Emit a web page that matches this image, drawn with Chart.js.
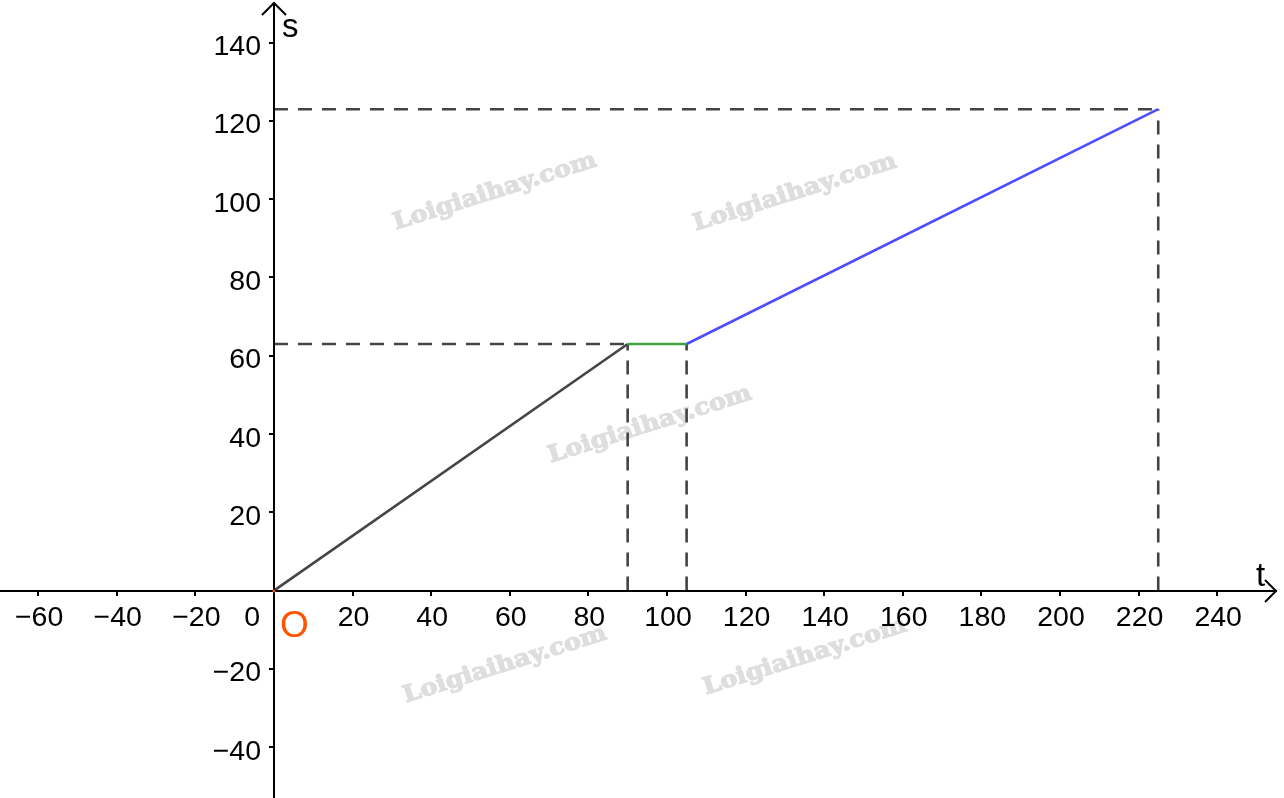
<!DOCTYPE html>
<html><head><meta charset="utf-8">
<script src="https://cdn.jsdelivr.net/npm/chart.js@4/dist/chart.umd.min.js"></script>
<style>html,body{margin:0;padding:0;background:#fff;overflow:hidden}canvas{display:block}</style>
</head><body>
<canvas id="c" width="1284" height="798"></canvas>
<script>
// ---- data ----
const tValues = [0, 90, 105, 225];
const sValues = [0, 63, 63, 123];
const segmentColors = ['#454545', '#3fa33f', '#4d4dff'];
const verticalGuideIdx = [1, 2, 3];
const horizontalGuideIdx = [1, 3];
const xTicks = [-60, -40, -20, 0, 20, 40, 60, 80, 100, 120, 140, 160, 180, 200, 220, 240];
const yTicks = [-40, -20, 0, 20, 40, 60, 80, 100, 120, 140];
const xAxisName = 't';
const yAxisName = 's';
const originName = 'O';
const watermarkText = 'Loigiaihay.com';
const watermarkSpots = [[495, 192], [795, 193], [650, 425], [505, 665], [805, 657]];

const fmt = v => (v < 0 ? '\u2212' + Math.abs(v) : String(v));

const mainData = tValues.map((t, i) => ({x: t, y: sValues[i]}));
const guideSets = [];
verticalGuideIdx.forEach(i => guideSets.push([{x: tValues[i], y: 0}, {x: tValues[i], y: sValues[i]}]));
horizontalGuideIdx.forEach(i => guideSets.push([{x: 0, y: sValues[i]}, {x: tValues[i], y: sValues[i]}]));

const datasets = [{
  data: mainData,
  showLine: true,
  borderWidth: 2.6,
  pointRadius: 0,
  order: 0,
  borderColor: '#454545',
  segment: {borderColor: ctx => segmentColors[ctx.p0DataIndex]}
}];
guideSets.forEach(g => datasets.push({
  data: g, showLine: true, borderWidth: 2.6, pointRadius: 0, order: 1,
  borderColor: '#444444', borderDash: [14, 10], borderCapStyle: 'butt'
}));

const axesPlugin = {
  id: 'axesPlugin',
  beforeDatasetsDraw(chart) {
    const ctx = chart.ctx;
    ctx.save();
    // watermarks
    ctx.fillStyle = '#dedede';
    ctx.strokeStyle = '#dedede';
    ctx.lineWidth = 1.2;
    ctx.lineJoin = 'round';
    ctx.font = 'bold 23px "DejaVu Serif"';
    ctx.textAlign = 'center'; ctx.textBaseline = 'middle';
    watermarkSpots.forEach(([px, py]) => {
      ctx.save(); ctx.translate(px, py); ctx.rotate(-17.5 * Math.PI / 180);
      const w = ctx.measureText(watermarkText).width;
      ctx.scale(212 / w, 1);
      ctx.fillText(watermarkText, 0, 0);
      ctx.strokeText(watermarkText, 0, 0);
      ctx.restore();
    });
    ctx.restore();
  },
  afterDatasetsDraw(chart) {
    const ctx = chart.ctx, xs = chart.scales.x, ys = chart.scales.y;
    const x0 = Math.round(xs.getPixelForValue(0)), y0 = Math.round(ys.getPixelForValue(0));
    const W = chart.width, H = chart.height;
    ctx.save();
    ctx.strokeStyle = '#000'; ctx.lineWidth = 2; ctx.lineCap = 'butt';
    // axes
    ctx.beginPath();
    ctx.moveTo(0, y0); ctx.lineTo(W - 7, y0);
    ctx.moveTo(x0, H); ctx.lineTo(x0, 3);
    ctx.stroke();
    // arrows
    ctx.beginPath();
    ctx.moveTo(W - 19, y0 - 11); ctx.lineTo(W - 8, y0); ctx.lineTo(W - 19, y0 + 11);
    ctx.moveTo(x0 - 12, 15); ctx.lineTo(x0, 3); ctx.lineTo(x0 + 12, 15);
    ctx.stroke();
    // ticks
    ctx.beginPath();
    xTicks.forEach(v => { if (v === 0) return; const p = Math.round(xs.getPixelForValue(v)); ctx.moveTo(p, y0); ctx.lineTo(p, y0 + 5); });
    yTicks.forEach(v => { if (v === 0) return; const p = Math.round(ys.getPixelForValue(v)); ctx.moveTo(x0 - 5, p); ctx.lineTo(x0, p); });
    ctx.stroke();
    // labels
    ctx.fillStyle = '#000';
    ctx.font = '28.5px "Liberation Sans", Arial, sans-serif';
    ctx.textBaseline = 'alphabetic';
    xTicks.forEach(v => {
      if (v === 0) { ctx.textAlign = 'right'; ctx.fillText('0', x0 - 14, y0 + 35); return; }
      ctx.textAlign = 'center'; ctx.fillText(fmt(v), xs.getPixelForValue(v) + 1, y0 + 35);
    });
    ctx.textAlign = 'right';
    yTicks.forEach(v => { if (v === 0) return; ctx.fillText(fmt(v), x0 - 13, ys.getPixelForValue(v) + 12.5); });
    // axis names
    ctx.font = '33px "Liberation Sans", Arial, sans-serif';
    ctx.textAlign = 'left';
    ctx.fillText(yAxisName, x0 + 8, 37);
    ctx.fillText(xAxisName, W - 28, y0 - 5);
    // origin
    ctx.fillStyle = '#ff5500';
    ctx.font = '37px "Liberation Sans", Arial, sans-serif';
    ctx.fillText(originName, x0 + 6, y0 + 46);
    ctx.beginPath(); ctx.arc(x0, y0, 1.5, 0, Math.PI * 2); ctx.fill();
    ctx.restore();
  }
};

new Chart(document.getElementById('c'), {
  type: 'scatter',
  data: {datasets},
  options: {
    responsive: false,
    devicePixelRatio: 1,
    animation: false,
    layout: {padding: 0},
    plugins: {legend: {display: false}, tooltip: {enabled: false}},
    scales: {
      x: {type: 'linear', display: false, min: -69.7, max: 257},
      y: {type: 'linear', display: false, min: -53, max: 150.9}
    }
  },
  plugins: [axesPlugin]
});
</script>
</body></html>
